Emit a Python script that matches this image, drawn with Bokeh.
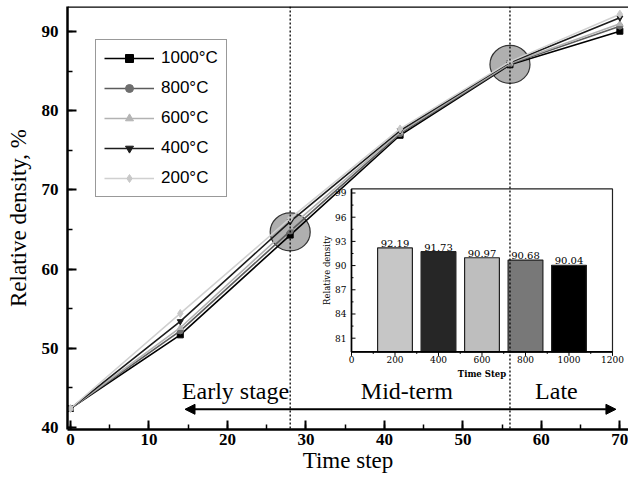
import math
from bokeh.plotting import figure
from bokeh.models import (Range1d, Span, Arrow, NormalHead, Legend, LegendItem,
                          SingleIntervalTicker)
from bokeh.core.properties import value
from bokeh.embed import file_html
from bokeh.resources import INLINE

# ---------------- data ----------------
time_steps = [0, 14, 28, 42, 56, 70]
density_1000 = [42.4, 51.7, 64.3, 76.9, 85.8, 90.04]
density_800 = [42.4, 52.2, 64.8, 77.1, 85.9, 90.68]
density_600 = [42.4, 52.6, 65.3, 77.3, 86.0, 90.97]
density_400 = [42.4, 53.4, 66.0, 77.5, 86.1, 91.73]
density_200 = [42.4, 54.4, 66.4, 77.7, 86.2, 92.19]
series_labels = ["1000°C", "800°C", "600°C", "400°C", "200°C"]

stage_boundaries = [28, 56]
stage_labels = ["Early stage", "Mid-term", "Late"]
stage_label_x = [14.2, 37.0, 59.2]
stage_label_y = [44.6, 44.6, 44.6]
arrow_x = [14.6, 69.5]
arrow_y = 42.3
highlight_x = [28, 56]
highlight_y = [64.7, 85.85]

inset_temps = [200, 400, 600, 800, 1000]
inset_density = [92.19, 91.73, 90.97, 90.68, 90.04]
inset_value_labels = ["92.19", "91.73", "90.97", "90.68", "90.04"]
inset_x_ticks = [0, 200, 400, 600, 800, 1000, 1200]
inset_x_tick_labels = ["0", "200", "400", "600", "800", "1000", "1200"]
inset_x_minor = [100, 300, 500, 700, 900, 1100]
inset_y_ticks = [81, 84, 87, 90, 93, 96, 99]
inset_y_tick_labels = ["81", "84", "87", "90", "93", "96", "99"]
inset_y_minor = [82.5, 85.5, 88.5, 91.5, 94.5, 97.5]
inset_x_bounds = [0, 1200]
inset_y_bounds = [79.3, 99.5]

SERIF = "Liberation Serif"
SANS = "Liberation Sans"
ISERIF = "DejaVu Serif"

x_start, x_end = -0.37, 71.1
y_start, y_end = 39.75, 93.16

p = figure(width=628, height=481, output_backend="svg", toolbar_location=None,
           x_range=Range1d(x_start, x_end), y_range=Range1d(y_start, y_end),
           min_border_left=67, min_border_right=0, min_border_top=6,
           min_border_bottom=52)
p.outline_line_color = None
p.grid.visible = False
p.background_fill_color = "white"

# inset coordinate system (maps onto part of the frame)
p.extra_x_ranges = {"ix": Range1d(-1305.7, 1273.6)}
p.extra_y_ranges = {"iy": Range1d(69.68, 122.12)}

for ax in (p.xaxis[0], p.yaxis[0]):
    ax.ticker = SingleIntervalTicker(interval=10, num_minor_ticks=2)
    ax.axis_line_width = 2.5
    ax.major_tick_in = 9
    ax.major_tick_out = 0
    ax.minor_tick_in = 5
    ax.minor_tick_out = 0
    ax.major_tick_line_width = 2
    ax.minor_tick_line_width = 1.5
    ax.major_label_text_font = SERIF
    ax.major_label_text_font_style = "bold"
    ax.major_label_text_font_size = "17px"
    ax.major_label_text_color = "black"
    ax.axis_label_text_font = SERIF
    ax.axis_label_text_font_style = "normal"
    ax.axis_label_text_font_size = "23px"
    ax.axis_label_text_color = "black"
p.xaxis.axis_label = "Time step"
p.yaxis.axis_label = "Relative density, %"
p.xaxis.major_label_standoff = 4
p.xaxis.axis_label_standoff = 0
p.yaxis.major_label_standoff = 9
p.yaxis.axis_label_standoff = 8

p.add_layout(Span(location=y_end, dimension="width", line_color="black", line_width=2.5))

# highlight circles
p.ellipse(x=highlight_x, y=highlight_y, width=5.1, height=4.8,
          fill_color="#a6a6a6", fill_alpha=0.9, line_color="#333333", line_width=1.2)

# ---------------- inset ----------------
ikw = dict(x_range_name="ix", y_range_name="iy")
p.quad(left=[inset_x_bounds[0]], right=[inset_x_bounds[1]],
       bottom=[inset_y_bounds[0]], top=[inset_y_bounds[1]],
       fill_color="white", line_color="#222222", line_width=1.2, **ikw)
bar_colors = ["#c6c6c6", "#262626", "#bebebe", "#787878", "#000000"]
p.vbar(x=inset_temps, width=160, bottom=inset_y_bounds[0], top=inset_density,
       fill_color=bar_colors, line_color="#222222", line_width=1.2, **ikw)
p.text(x=inset_temps, y=inset_density, text=inset_value_labels,
       text_align="center", text_baseline="bottom", y_offset=-1,
       text_font=value(ISERIF), text_font_size="10px", text_color="black", **ikw)
# inset axes lines
p.segment(x0=[inset_x_bounds[0]], y0=[inset_y_bounds[0]], x1=[inset_x_bounds[1]],
          y1=[inset_y_bounds[0]], line_color="black", line_width=1.6, **ikw)
p.segment(x0=[inset_x_bounds[0]], y0=[inset_y_bounds[0]], x1=[inset_x_bounds[0]],
          y1=[inset_y_bounds[1]], line_color="black", line_width=1.6, **ikw)
# inset ticks
p.ray(x=inset_x_ticks, y=[inset_y_bounds[0]] * len(inset_x_ticks), length=4,
      length_units="screen", angle=-math.pi / 2, line_color="black", line_width=1, **ikw)
p.ray(x=inset_x_minor, y=[inset_y_bounds[0]] * len(inset_x_minor), length=2,
      length_units="screen", angle=-math.pi / 2, line_color="black", line_width=1, **ikw)
p.ray(x=[inset_x_bounds[0]] * len(inset_y_ticks), y=inset_y_ticks, length=4,
      length_units="screen", angle=0, line_color="black", line_width=1, **ikw)
p.ray(x=[inset_x_bounds[0]] * len(inset_y_minor), y=inset_y_minor, length=2,
      length_units="screen", angle=0, line_color="black", line_width=1, **ikw)
p.text(x=inset_x_ticks, y=[inset_y_bounds[0]] * len(inset_x_ticks), text=inset_x_tick_labels,
       text_align="center", text_baseline="top", y_offset=4,
       text_font=value(ISERIF), text_font_size="9px", text_color="black", **ikw)
p.text(x=[inset_x_bounds[0]] * len(inset_y_ticks), y=inset_y_ticks, text=inset_y_tick_labels,
       text_align="right", text_baseline="middle", x_offset=-5,
       text_font=value(ISERIF), text_font_size="9px", text_color="black", **ikw)
p.text(x=[600], y=[inset_y_bounds[0]], text=["Time Step"], text_align="center",
       text_baseline="top", y_offset=17, text_font=value(ISERIF), text_font_style="bold",
       text_font_size="8.5px", text_color="black", **ikw)
p.text(x=[inset_x_bounds[0]], y=[(inset_y_bounds[0] + inset_y_bounds[1]) / 2],
       text=["Relative density"], text_align="center", text_baseline="middle",
       x_offset=-24, angle=math.pi / 2, text_font=value(ISERIF),
       text_font_size="8.5px", text_color="black", **ikw)

# stage boundaries
for b in stage_boundaries:
    p.add_layout(Span(location=b, dimension="height", line_color="black",
                      line_width=1.3, line_dash="2 2"))

# ---------------- main series ----------------
series = [
    (density_1000, "#000000", "#000000", "square"),
    (density_800, "#5c5c5c", "#6e6e6e", "circle"),
    (density_600, "#b2b2b2", "#b4b4b4", "triangle"),
    (density_400, "#1c1c1c", "#1c1c1c", "inverted_triangle"),
    (density_200, "#d0d0d0", "#c8c8c8", "diamond"),
]
items = []
for (vals, lc, mc, mk), lab in zip(series, series_labels):
    r1 = p.line(time_steps, vals, line_color=lc, line_width=1.6)
    r2 = p.scatter(time_steps, vals, marker=mk, size=8 if mk == "diamond" else 6,
                   fill_color=mc, line_color=mc)
    items.append(LegendItem(label=lab, renderers=[r1, r2]))

legend = Legend(items=items, location=(28, 232), border_line_color="#333333",
                border_line_width=1.5, background_fill_color="white",
                label_text_font=SANS, label_text_font_size="17px",
                label_text_color="black", glyph_width=50, glyph_height=20,
                label_height=20, spacing=10, padding=8, margin=0,
                label_standoff=7)
p.add_layout(legend, "center")

# stage labels and arrow
p.text(x=stage_label_x, y=stage_label_y, text=stage_labels, text_align="left",
       text_baseline="alphabetic", text_font=value(SERIF), text_font_size="24px",
       text_color="black")
p.add_layout(Arrow(start=NormalHead(size=10, fill_color="black", line_color="black"),
                   end=NormalHead(size=10, fill_color="black", line_color="black"),
                   x_start=arrow_x[0], y_start=arrow_y, x_end=arrow_x[1], y_end=arrow_y,
                   line_color="black", line_width=2))

open("out.html", "w").write(file_html(p, INLINE))
